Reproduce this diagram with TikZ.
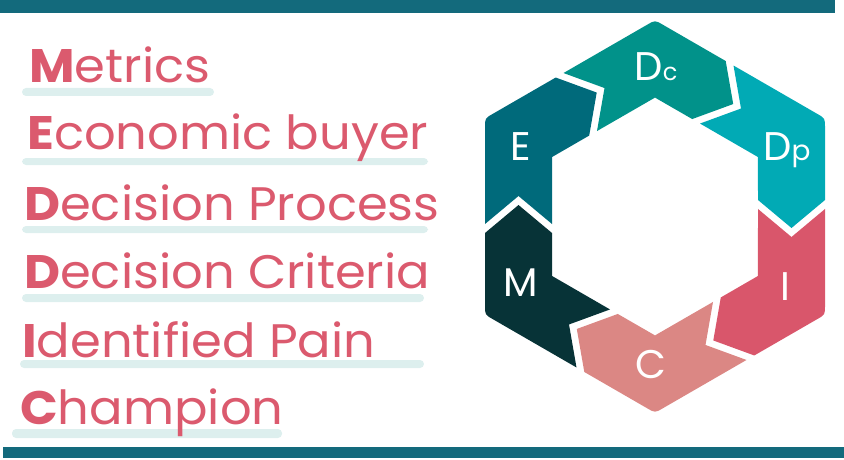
\documentclass[tikz,border=0pt]{standalone}
\usepackage{fontspec}
\setmainfont{Poppins}
\newfontfamily\listfont[FakeStretch=1.055]{Poppins}
\definecolor{barblue}{HTML}{136A7C}
\definecolor{cE}{HTML}{006A7B}
\definecolor{cDc}{HTML}{01928A}
\definecolor{cDp}{HTML}{01AAB5}
\definecolor{cI}{HTML}{D9566B}
\definecolor{cC}{HTML}{DB8784}
\definecolor{cM}{HTML}{073337}
\definecolor{txtred}{HTML}{DB5A6E}
\definecolor{ulbar}{HTML}{DDEFEE}
\begin{document}
\begin{tikzpicture}[x=1pt,y=1pt,
  item/.style={anchor=base west,inner sep=0pt,text=txtred,font=\listfont\fontsize{47}{47}\selectfont},
  ubar/.style={fill=ulbar,rounded corners=4pt},
  lbl/.style={anchor=base,inner sep=0pt,text=white,font=\fontsize{40}{40}\selectfont},
  hbar/.style={fill=barblue}]
\useasboundingbox (0,0) rectangle (844,459);
% top and bottom bars
\fill[hbar] (0,446.3) rectangle (835,459);
\fill[hbar] (3,1) rectangle (844,12.5);
% underline bars
\fill[ubar] (22,363) rectangle (214,371);
\fill[ubar] (22,294) rectangle (428,301);
\fill[ubar] (22,226) rectangle (428,233);
\fill[ubar] (22,157) rectangle (424,165);
\fill[ubar] (20,91) rectangle (424,99);
\fill[ubar] (12,21) rectangle (282,30);
% list
\node[item] (tm) at (29,376) {\textbf{M}etrics};
\node[item] (te) at (27,309) {\textbf{E}conomic buyer};
\node[item] (tdp) at (24,239) {\textbf{D}ecision Process};
\node[item] (tdc) at (24,171) {\textbf{D}ecision Criteria};
\node[item] (ti) at (22,102) {\textbf{I}dentified Pain};
\node[item] (tc) at (20,35) {\textbf{C}hampion};
% hexagon ring segments
\foreach \ang/\col in {0/cDc,-60/cDp,-120/cI,-180/cC,-240/cM,-300/cE}{
  \begin{scope}[shift={(655,242.5)},rotate=\ang]
    \fill[\col] (-91.50,143.47) -- (-7.79,191.80) .. controls (0,196.3) .. (7.79,191.80)
      -- (70.71,155.47) -- (78.21,112.46) -- (37.21,97.45) -- (0,118.9)
      -- (-58.00,85.45) -- (-50.50,128.46) -- cycle;
  \end{scope}
}
% labels
\node[lbl] (lDc) at (656,378.3) {D{\fontsize{24}{24}\selectfont c}};
\node[lbl] (lDp) at (787,299) {D{\fontsize{28}{28}\selectfont p}};
\node[lbl] (lI) at (785,159) {I};
\node[lbl] (lC) at (651,81) {C};
\node[lbl] (lM) at (520.5,162.3) {M};
\node[lbl] (lE) at (521,299) {E};
\end{tikzpicture}
\end{document}
